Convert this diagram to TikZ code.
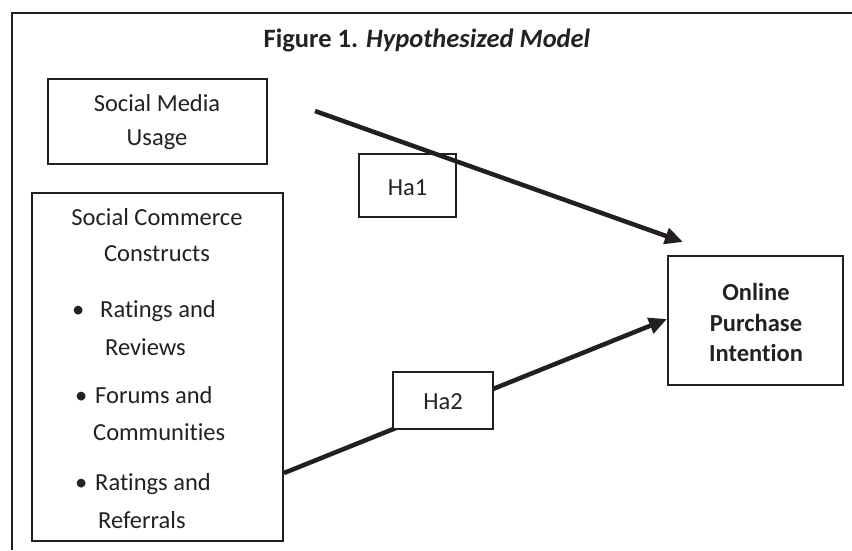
\documentclass[tikz,border=0pt]{standalone}
\usepackage{fontspec}
\setmainfont{Carlito}[Ligatures=NoCommon]
\usetikzlibrary{arrows.meta}
\definecolor{ink}{HTML}{231F20}
\definecolor{txt}{HTML}{222222}
\begin{document}
\begin{tikzpicture}[x=1pt,y=-1pt,
  box/.style={draw=ink,line width=2pt,fill=white,inner sep=0pt},
  lbl/.style={text=txt,font=\fontsize{24.5}{29}\selectfont,inner sep=0pt,anchor=base},
  lbll/.style={text=txt,font=\fontsize{24.5}{29}\selectfont,inner sep=0pt,anchor=base west},
  bold/.style={text=txt,font=\fontsize{24.5}{29}\selectfont\bfseries,inner sep=0pt,anchor=base},
  conn/.style={draw=ink,line width=4.5pt,-{Triangle[length=18pt,width=16pt]}}]
\useasboundingbox (0,0) rectangle (852,550);
% frame
\draw[ink,line width=2.5pt] (12,550) -- (12,13) -- (852,13);
% title
\node[text=txt,inner sep=0pt,anchor=base,font=\fontsize{26.5}{32}\selectfont\bfseries] (title) at (427,47) {Figure 1. \textit{Hypothesized Model}};
% Social Media Usage
\node[box,minimum width=219pt,minimum height=85pt] (smu) at (157.5,121.5) {};
\node[lbl] (smu1) at (157,111) {Social Media};
\node[lbl] (smu2) at (157,145) {Usage};
% Social Commerce Constructs
\node[box,minimum width=251pt,minimum height=348pt] (scc) at (157.5,367) {};
\node[lbl] (sc1) at (157,225) {Social Commerce};
\node[lbl] (sc2) at (157,261) {Constructs};
\node[lbll] (b1) at (72,317) {•};
\node[lbll] (r1) at (100,317) {Ratings and};
\node[lbll] (r2) at (105,355) {Reviews};
\node[lbll] (b2) at (75,403) {•};
\node[lbll] (f1) at (95,403) {Forums and};
\node[lbll] (f2) at (93,440) {Communities};
\node[lbll] (b3) at (75,490) {•};
\node[lbll] (g1) at (95,490) {Ratings and};
\node[lbll] (g2) at (98,528) {Referrals};
% Online Purchase Intention
\node[box,line width=2.6pt,minimum width=175pt,minimum height=129pt] (opi) at (755.5,320.5) {};
\node[bold] (o1) at (756,300) {Online};
\node[bold] (o2) at (756,331) {Purchase};
\node[bold] (o3) at (756,361) {Intention};
% connector coordinates
\coordinate (a1s) at (315,111);
\coordinate (a1e) at (683,242);
\coordinate (a2s) at (scc.east |- 0,473);
\coordinate (a2e) at (667,319);
% Ha1 box (line drawn over it)
\node[box,fill=none,minimum width=97pt,minimum height=63pt] (ha1) at (407.5,185.5) {};
\node[lbl] (ha1t) at (407.5,195) {Ha1};
\draw[conn] (a1s) -- (a1e);
% arrow 2 with Ha2 over it
\draw[conn] (a2s) -- (a2e);
\node[box,minimum width=100pt,minimum height=57pt] (ha2) at (443,400.5) {};
\node[lbl] (ha2t) at (443,409) {Ha2};
\end{tikzpicture}
\end{document}
